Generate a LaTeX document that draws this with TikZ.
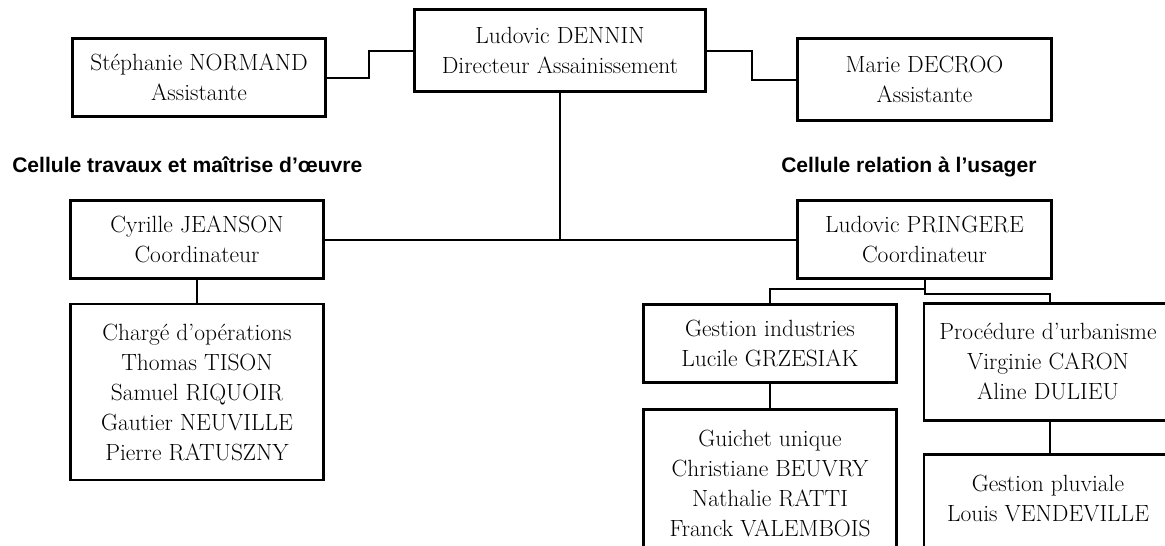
\documentclass[tikz,border=0pt]{standalone}
\usepackage{fontspec}
\newfontfamily\cellfont{Liberation Sans}

\begin{document}
\begin{tikzpicture}[x=0.75pt,y=-0.75pt,
  box/.style={draw, line width=2.2pt, align=center, inner sep=0pt,
    minimum width=190pt, minimum height=59pt, font=\fontsize{17.6}{22.5}\selectfont},
  link/.style={line width=1.5pt},
  cellule/.style={anchor=base west, inner sep=0pt, font=\cellfont\bfseries\fontsize{15.8}{18}\selectfont}]
\useasboundingbox (0,0) rectangle (1165,546);
\clip (0,0) rectangle (1165,546);

\node[box, minimum width=218pt, minimum height=61pt] (dennin) at (560,50.5) {Ludovic DENNIN\\Directeur Assainissement};
\node[box] (normand) at (199,77.5) {Stéphanie NORMAND\\Assistante};
\node[box, minimum height=61pt] (decroo) at (924.5,79.5) {Marie DECROO\\Assistante};

\node[cellule] (travaux) at (12,172) {Cellule travaux et maîtrise d’œuvre};
\node[cellule] (usager) at (781,172) {Cellule relation à l’usager};

\node[box] (jeanson) at (197,239.5) {Cyrille JEANSON\\Coordinateur};
\node[box, minimum height=132pt] (operations) at (197,392) {Chargé d’opérations\\Thomas TISON\\Samuel RIQUOIR\\Gautier NEUVILLE\\Pierre RATUSZNY};
\node[box] (pringere) at (924.5,239.5) {Ludovic PRINGERE\\Coordinateur};
\node[box] (industries) at (770,343.5) {Gestion industries\\Lucile GRZESIAK};
\node[box, minimum height=110pt] (guichet) at (770,483) {Guichet unique\\Christiane BEUVRY\\Nathalie RATTI\\Franck VALEMBOIS};
\node[box, minimum width=186pt, minimum height=88pt] (urbanisme) at (1048,362) {Procédure d’urbanisme\\Virginie CARON\\Aline DULIEU};
\node[box, minimum width=186pt, minimum height=110pt] (pluviale) at (1048,528) {Gestion pluviale\\Louis VENDEVILLE\\~\\~};

\draw[link] (normand.east) -- ++(42,0) |- (dennin.west);
\draw[link] (dennin.east) -- ++(45,0) |- (decroo.west);
\draw[link] (dennin.south) -- (dennin.south |- jeanson.east);
\draw[link] (jeanson.east) -- (pringere.west);
\draw[link] (jeanson.south) -- (operations.north);
\draw[link] (pringere.south) -- ++(0,9) -| (industries.north);
\draw[link] (pringere.south) -- ++(0,14) -| ([xshift=1.5pt]urbanisme.north);
\draw[link] (industries.south) -- (guichet.north);
\draw[link] ([xshift=1.5pt]urbanisme.south) -- ([xshift=1.5pt]pluviale.north);
\end{tikzpicture}
\end{document}
